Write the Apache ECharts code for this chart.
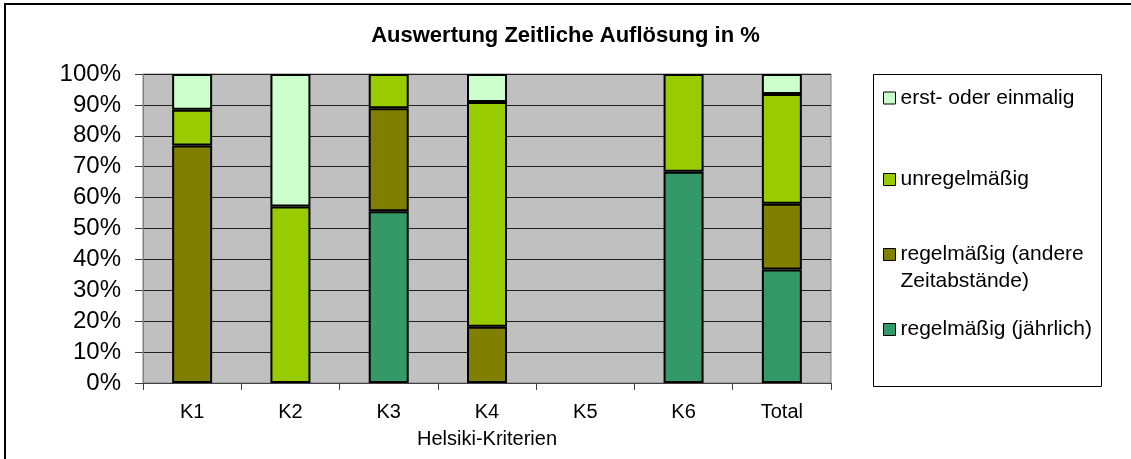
<!DOCTYPE html>
<html>
<head>
<meta charset="utf-8">
<script src="https://cdn.jsdelivr.net/npm/echarts@6/dist/echarts.min.js"></script>
<style>
html, body { margin: 0; padding: 0; background: #fff; }
#chart { width: 1131px; height: 459px; }
</style>
</head>
<body>
<div id="chart"></div>
<script>
// Auswertung Zeitliche Auflösung - gestapelte Säulen 100%
var categories = ['K1', 'K2', 'K3', 'K4', 'K5', 'K6', 'Total']
var jaehrlich = [null, null, 55.6, null, null, 68.4, 36.7]
var andere = [76.9, null, 33.3, 18.2, null, null, 21.3]
var unregel = [11.5, 57.1, 11.1, 72.7, null, 31.6, 35.5]
var erst = [11.6, 42.9, null, 9.1, null, null, 6.5]
var yTicks = [0, 10, 20, 30, 40, 50, 60, 70, 80, 90, 100]

var names = ['regelmäßig (jährlich)', 'regelmäßig (andere Zeitabstände)', 'unregelmäßig', 'erst- oder einmalig']
var colors = ['#339966', '#808000', '#99CC00', '#CCFFCC']
var values = [jaehrlich, andere, unregel, erst]

var font = '"Liberation Sans", Arial, sans-serif'

function makeSeries(i) {
    return {
        name: names[i],
        type: 'bar',
        stack: 'total',
        barWidth: 40,
        itemStyle: {
            color: colors[i],
            borderColor: '#000',
            borderWidth: 2
        },
        data: values[i]
    }
}

// legend entries, top to bottom (andere: leerzeile oben, damit das Symbol an der ersten Zeile steht)
var legendTops = [84.5, 166, 214, 316]
var legendOrder = [3, 2, 1, 0]
var legends = legendOrder.map(function (idx, k) {
    return {
        left: 883,
        top: legendTops[k],
        orient: 'vertical',
        data: [names[idx]],
        itemWidth: 12,
        itemHeight: 12,
        itemGap: 0,
        padding: 0,
        icon: 'rect',
        selectedMode: false,
        itemStyle: { borderColor: '#000', borderWidth: 1 },
        formatter: function (name) {
            return name == names[1] ? '\nregelmäßig (andere\nZeitabstände)' : name
        },
        textStyle: {
            fontFamily: font,
            fontSize: 21,
            color: '#000',
            lineHeight: 27
        }
    }
})

var chart = echarts.init(document.getElementById('chart'))
chart.setOption({
    backgroundColor: '#fff',
    animation: false,
    title: {
        text: 'Auswertung Zeitliche Auflösung in %',
        left: 'center',
        top: 20,
        textStyle: {
            fontFamily: font,
            fontSize: 22,
            fontWeight: 'bold',
            color: '#000'
        }
    },
    graphic: [{
        type: 'rect',
        shape: { x: 5, y: 4, width: 1200, height: 600 },
        style: { fill: null, stroke: '#000', lineWidth: 2 },
        silent: true
    }, {
        type: 'rect',
        shape: { x: 873.5, y: 74.5, width: 228, height: 312 },
        style: { fill: '#fff', stroke: '#000', lineWidth: 1 },
        silent: true,
        z: -1
    }],
    legend: legends,
    grid: {
        left: 143,
        right: 300,
        top: 74,
        bottom: 76,
        show: true,
        backgroundColor: '#C0C0C0',
        borderColor: '#808080',
        borderWidth: 1
    },
    xAxis: {
        type: 'category',
        data: categories,
        name: 'Helsiki-Kriterien',
        nameLocation: 'middle',
        nameGap: 46,
        nameTextStyle: { fontFamily: font, fontSize: 20, color: '#000' },
        axisLine: { lineStyle: { color: '#404040', width: 1 } },
        axisTick: { show: true, length: 7, lineStyle: { color: '#404040' } },
        axisLabel: { fontFamily: font, fontSize: 20, color: '#000', margin: 19 },
        splitLine: { show: false }
    },
    yAxis: {
        type: 'value',
        min: 0,
        max: 100,
        interval: 10,
        axisLine: { show: true, lineStyle: { color: '#808080' } },
        axisTick: { show: true, length: 8, lineStyle: { color: '#404040' } },
        axisLabel: {
            fontFamily: font,
            fontSize: 24,
            color: '#000',
            margin: 22,
            formatter: function (v) { return yTicks.indexOf(v) >= 0 ? v + '%' : '' }
        },
        splitLine: { show: true, lineStyle: { color: '#202020', width: 1 } }
    },
    series: [makeSeries(0), makeSeries(1), makeSeries(2), makeSeries(3)]
})
</script>
</body>
</html>
